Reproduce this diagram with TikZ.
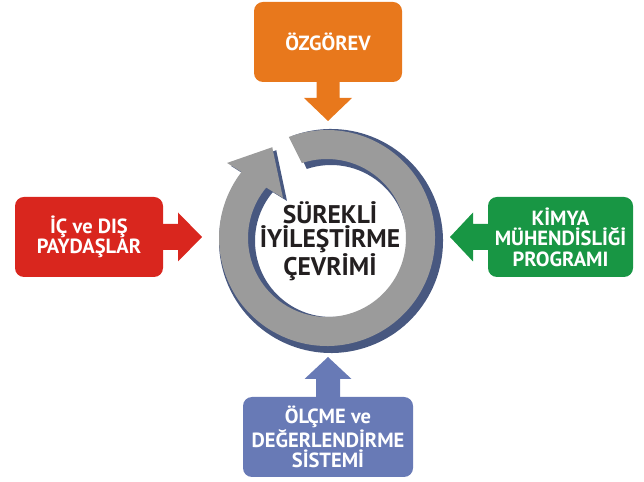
\documentclass[tikz,border=0pt]{standalone}
\usepackage{fontspec}
\setmainfont{PT Sans}
\usetikzlibrary{calc}
\definecolor{cOr}{RGB}{232,120,28}
\definecolor{cRd}{RGB}{217,38,30}
\definecolor{cGr}{RGB}{24,150,68}
\definecolor{cBl}{RGB}{104,122,182}
\definecolor{cRing}{RGB}{155,155,155}
\definecolor{cShd}{RGB}{72,88,128}
\definecolor{cTxt}{RGB}{35,31,32}
\begin{document}
\begin{tikzpicture}[x=1pt,y=1pt,
  box/.style={rounded corners=9pt, minimum height=80pt, inner sep=0pt, align=center,
    text=white, font=\bfseries\fontsize{20.5}{20.5}\selectfont},
  ctext/.style={align=center, text=cTxt, font=\bfseries\fontsize{25.5}{24}\selectfont}
]
\useasboundingbox (0,0) rectangle (644,481);

% ring shadow
\coordinate (S) at (331,240);
\fill[cShd] ($(S)+(110.7:112)$) arc[start angle=110.7, end angle=-217.45, radius=112]
  -- ($(S)+(143.1:125)$) -- ($(S)+(121.1:106)$) -- ($(S)+(137.7:59.5)$)
  -- ($(S)+(140.0:76)$) arc[start angle=-220, end angle=108.6, radius=76] -- cycle;
% ring
\coordinate (O) at (327,243);
\fill[cRing] ($(O)+(110.7:108)$) arc[start angle=110.7, end angle=-217.65, radius=108]
  -- ($(O)+(143.1:125)$) -- ($(O)+(121.1:106)$) -- ($(O)+(137.7:59.5)$)
  -- ($(O)+(140.3:79)$) arc[start angle=-219.7, end angle=108.6, radius=79] -- cycle;

\node[ctext] (c) at (330,239.5) {SÜREKLİ\\İYİLEŞTİRME\\ÇEVRİMİ};

% boxes
\node[box, fill=cOr, minimum width=148pt] (oz) at (328,439) {ÖZGÖREV};
\node[box, fill=cRd, minimum width=148pt] (pd) at (89,244) {İÇ ve DIŞ\\PAYDAŞLAR};
\node[box, fill=cGr, minimum width=145pt] (km) at (560.5,244) {KİMYA\\MÜHENDİSLİĞİ\\PROGRAMI};
\node[box, fill=cBl, minimum width=170pt] (ol) at (328,44) {ÖLÇME ve\\DEĞERLENDİRME\\SİSTEMİ};

% arrow tips
\coordinate (toz) at (328,360);
\coordinate (tpd) at (202,244);
\coordinate (tkm) at (450,244);
\coordinate (tol) at (328,124);

% arrows
\fill[cOr] ([xshift=-11.5pt,yshift=1pt]oz.south) -- ($(toz)+(-11.5,23)$) -- ($(toz)+(-24,23)$)
  -- (toz) -- ($(toz)+(24,23)$) -- ($(toz)+(11.5,23)$) -- ([xshift=11.5pt,yshift=1pt]oz.south) -- cycle;
\fill[cRd] ([xshift=-1pt,yshift=13pt]pd.east) -- ($(tpd)+(-24,13)$) -- ($(tpd)+(-24,24.5)$)
  -- (tpd) -- ($(tpd)+(-24,-24.5)$) -- ($(tpd)+(-24,-13)$) -- ([xshift=-1pt,yshift=-13pt]pd.east) -- cycle;
\fill[cGr] ([xshift=1pt,yshift=13pt]km.west) -- ($(tkm)+(23,13)$) -- ($(tkm)+(23,24.5)$)
  -- (tkm) -- ($(tkm)+(23,-24.5)$) -- ($(tkm)+(23,-13)$) -- ([xshift=1pt,yshift=-13pt]km.west) -- cycle;
\fill[cBl] ([xshift=-12pt,yshift=-1pt]ol.north) -- ($(tol)+(-12,-22)$) -- ($(tol)+(-23.5,-22)$)
  -- (tol) -- ($(tol)+(23.5,-22)$) -- ($(tol)+(12,-22)$) -- ([xshift=12pt,yshift=-1pt]ol.north) -- cycle;
\end{tikzpicture}
\end{document}
